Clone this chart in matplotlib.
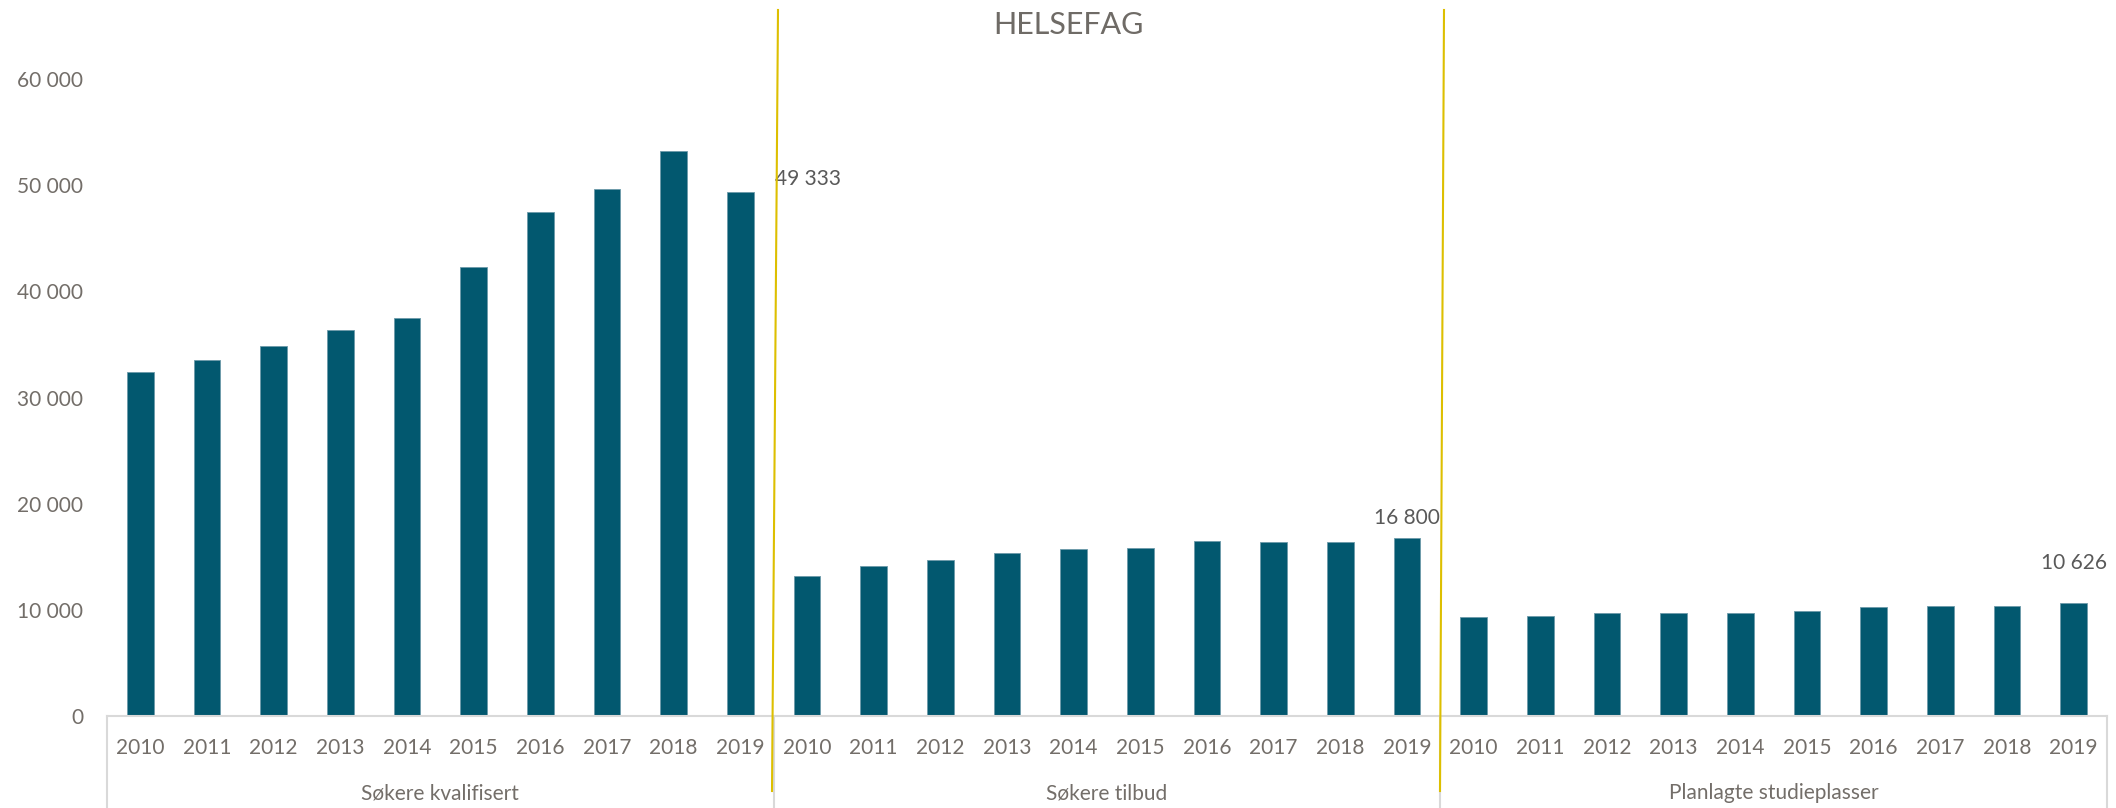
import matplotlib.pyplot as plt
import matplotlib.transforms as mtransforms
from matplotlib.lines import Line2D

plt.rcParams["font.family"] = ["Lato", "DejaVu Sans"]

years = ["2010", "2011", "2012", "2013", "2014", "2015", "2016", "2017", "2018", "2019"]
groups = ["Søkere kvalifisert", "Søkere tilbud", "Planlagte studieplasser"]

kvalifisert = [32380, 33500, 34880, 36390, 37460, 42260, 47470, 49610, 53190, 49333]
tilbud = [13190, 14100, 14720, 15350, 15730, 15820, 16480, 16360, 16390, 16800]
studieplasser = [9300, 9450, 9670, 9700, 9700, 9920, 10270, 10330, 10360, 10626]

yticks = [0, 10000, 20000, 30000, 40000, 50000, 60000]

BAR = "#02586F"
TXT = "#736E69"
LAB = "#595959"
GRID = "#D9D9D9"
YELLOW = "#DDBF00"

values = kvalifisert + tilbud + studieplasser
n = len(years)
xs = list(range(len(values)))

fig = plt.figure(figsize=(21.16, 8.08), dpi=100, facecolor="white")
ax = fig.add_axes([107 / 2116, 1 - 716 / 808, 2000 / 2116, 637 / 808])

ax.bar(xs, values, width=0.4, color=BAR, edgecolor="#6C9AAA", linewidth=0.6)

ax.set_xlim(-0.5, len(values) - 0.5)
ax.set_ylim(0, 60000)
for s in ["top", "right", "left"]:
    ax.spines[s].set_visible(False)
ax.spines["bottom"].set_color(GRID)
ax.spines["bottom"].set_linewidth(1.5)

ax.set_yticks(yticks)
ax.set_yticklabels([f"{v:,}".replace(",", " ") for v in yticks], fontsize=15, color=TXT)
ax.tick_params(axis="y", length=0, pad=17)
ax.set_xticks([])

# multi-level category axis
trans = mtransforms.blended_transform_factory(ax.transData, ax.transAxes)
for i, x in enumerate(xs):
    ax.text(x, -0.050, years[i % n], transform=trans, ha="center", va="center",
            fontsize=15, color=TXT)
for g, name in enumerate(groups):
    ax.text(g * n + (n - 1) / 2, -0.121, name, transform=trans, ha="center",
            va="center", fontsize=15, color=TXT)
for b in range(len(groups) + 1):
    ax.add_line(Line2D([b * n - 0.5, b * n - 0.5], [0, -0.2], transform=trans,
                       color=GRID, lw=1.5, clip_on=False))

# data labels
ax.annotate(f"{kvalifisert[-1]:,}".replace(",", " "), xy=(n - 1, kvalifisert[-1]),
            xytext=(35, 13), textcoords="offset pixels", ha="left", va="center",
            fontsize=15, color=LAB)
ax.annotate(f"{tilbud[-1]:,}".replace(",", " "), xy=(2 * n - 1, tilbud[-1]),
            xytext=(0, 20), textcoords="offset pixels", ha="center", va="center",
            fontsize=15, color=LAB)
ax.annotate(f"{studieplasser[-1]:,}".replace(",", " "), xy=(3 * n - 1, studieplasser[-1]),
            xytext=(0, 40), textcoords="offset pixels", ha="center", va="center",
            fontsize=15, color=LAB)

# yellow divider lines drawn on top of the chart
fig.add_artist(Line2D([778 / 2116, 772 / 2116], [1 - 10 / 808, 1 - 791 / 808],
                      color=YELLOW, lw=1.5))
fig.add_artist(Line2D([1444 / 2116, 1440 / 2116], [1 - 10 / 808, 1 - 791 / 808],
                      color=YELLOW, lw=1.5))

fig.text(1068 / 2116, 1 - 25 / 808, "HELSEFAG", ha="center", va="center",
         fontsize=22, color="#6F6B66")

fig.savefig("out.png", dpi=100, facecolor="white")
